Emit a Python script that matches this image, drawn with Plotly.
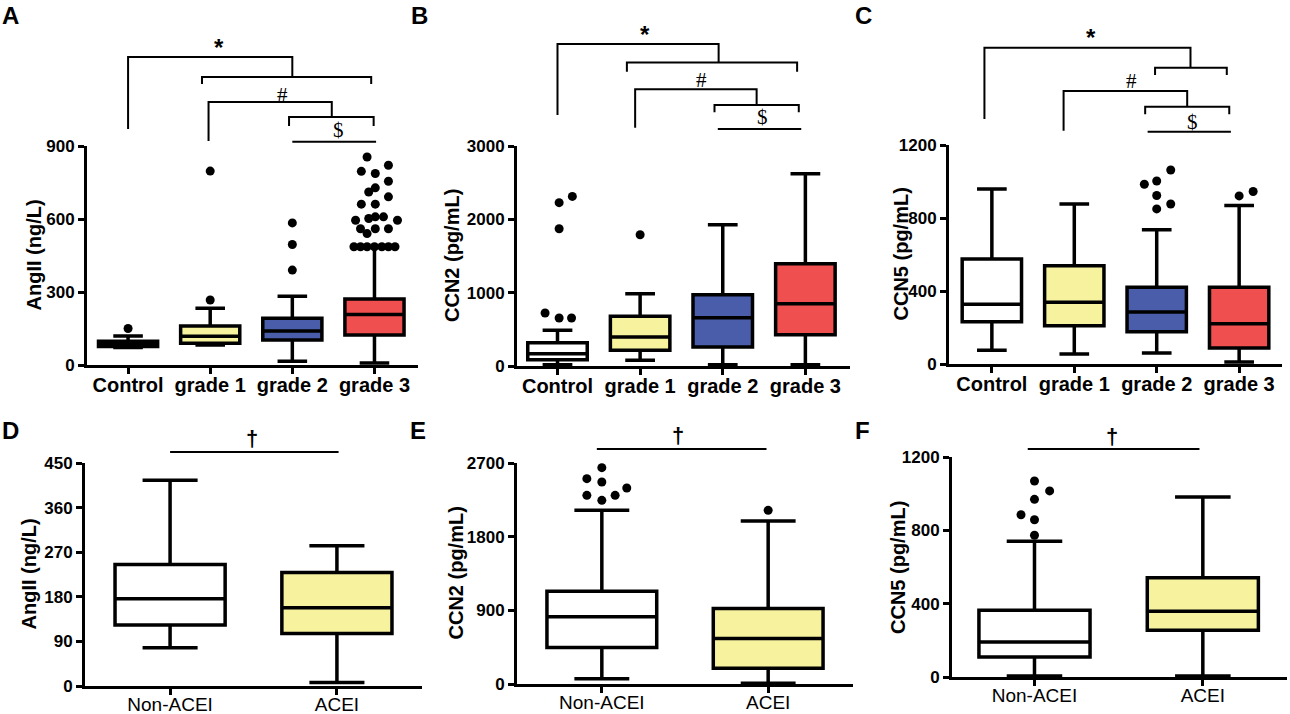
import plotly.graph_objects as go
from plotly.subplots import make_subplots

W, H = 1290, 714
FONT = "Liberation Sans"

# categories and colours
cats_grade = ["Control", "grade 1", "grade 2", "grade 3"]
cats_acei = ["Non-ACEI", "ACEI"]
fill_grade = ["white", "#F6F29E", "#4A5DAA", "#EF4F4F"]
fill_acei = ["white", "#F6F29E"]

# A - AngII by grade
angii_lo = [72, 82, 15, 8]
angii_q1 = [76, 89, 103, 123]
angii_med = [85, 118, 140, 208]
angii_q3 = [98, 160, 192, 271]
angii_hi = [119, 233, 283, 486]
angii_out = [[150], [267, 797], [390, 495, 584],
             [855, 821, 796, 787, 755, 728, 711, 691, 661, 661, 595, 602, 609, 595, 609,
              560, 560, 560, 540, 486, 486, 486, 486, 486, 486, 486]]
angii_out_dx = [[0], [0, 0], [0, 0, 0],
                [-0.09, 0.17, -0.16, 0.01, 0.17, 0.01, -0.07, 0.17, -0.16, 0.01, -0.23, -0.07, 0.11, 0.28, 0.01,
                 -0.17, 0.01, 0.17, -0.09, -0.25, -0.17, -0.09, 0, 0.09, 0.17, 0.25]]

# B - CCN2 by grade
ccn2_lo = [18, 77, 18, 18]
ccn2_q1 = [86, 214, 259, 427]
ccn2_med = [168, 395, 659, 850]
ccn2_q3 = [318, 677, 973, 1395]
ccn2_hi = [486, 986, 1927, 2622]
ccn2_out = [[723, 654, 654, 1872, 2227, 2313], [1790], [], []]
ccn2_out_dx = [[-0.15, 0.02, 0.17, 0.02, 0.02, 0.18], [0], [], []]

# C - CCN5 by grade
ccn5_lo = [75, 55, 60, 11]
ccn5_q1 = [232, 210, 177, 88]
ccn5_med = [328, 339, 285, 221]
ccn5_q3 = [575, 538, 420, 420]
ccn5_hi = [959, 877, 735, 868]
ccn5_out = [[], [], [985, 1003, 1063, 923, 850, 877], [921, 945]]
ccn5_out_dx = [[], [], [-0.15, 0, 0.17, 0, 0, 0.17], [0, 0.17]]

# D - AngII by ACEI
angii2_lo = [77, 7]
angii2_q1 = [123, 106]
angii2_med = [176, 158]
angii2_q3 = [245, 229]
angii2_hi = [415, 283]
angii2_out = [[], []]
angii2_out_dx = [[], []]

# E - CCN2 by ACEI
ccn2b_lo = [65, 8]
ccn2b_q1 = [447, 191]
ccn2b_med = [821, 557]
ccn2b_q3 = [1134, 923]
ccn2b_hi = [2122, 1992]
ccn2b_out = [[2643, 2509, 2468, 2395, 2305, 2244, 2305], [2122]]
ccn2b_out_dx = [[0, -0.09, 0, 0.15, -0.09, 0, 0.08], [0]]

# F - CCN5 by ACEI
ccn5b_lo = [5, 5]
ccn5b_q1 = [109, 255]
ccn5b_med = [191, 358]
ccn5b_q3 = [364, 542]
ccn5b_hi = [740, 982]
ccn5b_out = [[1069, 1015, 969, 885, 858, 773], []]
ccn5b_out_dx = [[0, 0.09, 0, -0.08, 0, 0], []]

# significance brackets (category, value) polylines and their symbols
brk_a = [[(0, 970), (0, 1266), (2, 1266), (2, 1184)],
         [(0.9, 1155), (0.9, 1184), (2.96, 1184), (2.96, 1155)],
         [(0.98, 921), (0.98, 1081), (2.48, 1081), (2.48, 1019)],
         [(1.96, 982), (1.96, 1019), (2.99, 1019), (2.99, 982)],
         [(2.0, 917), (3.02, 917)]]
sym_a = [("*", 1.11, 1303), ("#", 1.88, 1110), ("$", 2.56, 966)]
brk_b = [[(0, 3424), (0, 4392), (1.95, 4392), (1.95, 4137)],
         [(0.84, 4014), (0.84, 4137), (2.9, 4137), (2.9, 4014)],
         [(0.94, 3250), (0.94, 3774), (2.41, 3774), (2.41, 3560)],
         [(1.9, 3460), (1.9, 3560), (2.92, 3560), (2.92, 3460)],
         [(1.94, 3233), (2.95, 3233)]]
sym_b = [("*", 1.06, 4515), ("#", 1.74, 3901), ("$", 2.48, 3400)]
brk_c = [[(-0.09, 1342), (-0.09, 1733), (2.41, 1733), (2.41, 1624)],
         [(1.98, 1583), (1.98, 1624), (2.85, 1624), (2.85, 1583)],
         [(0.87, 1278), (0.87, 1496), (2.37, 1496), (2.37, 1410)],
         [(1.86, 1368), (1.86, 1410), (2.88, 1410), (2.88, 1368)],
         [(1.89, 1273), (2.9, 1273)]]
sym_c = [("*", 1.2, 1790), ("#", 1.7, 1551), ("$", 2.43, 1327)]
brk_d = [[(0, 472), (1.01, 472)]]
sym_d = [("†", 0.49, 499)]
brk_e = [[(-0.03, 2871), (0.99, 2871)]]
sym_e = [("†", 0.46, 3030)]
brk_f = [[(-0.04, 1244), (0.98, 1244)]]
sym_f = [("†", 0.46, 1312)]

panels = [
    dict(letter="A", cats=cats_grade, fills=fill_grade, lo=angii_lo, q1=angii_q1, med=angii_med, q3=angii_q3,
         hi=angii_hi, out=angii_out, odx=angii_out_dx, title="AngII (ng/L)", ymax=900, dtick=300,
         box=(87, 418, 146, 365), xr=(-0.5, 3.53), tx=33, let=(10, 15), brk=brk_a, sym=sym_a),
    dict(letter="B", cats=cats_grade, fills=fill_grade, lo=ccn2_lo, q1=ccn2_q1, med=ccn2_med, q3=ccn2_q3,
         hi=ccn2_hi, out=ccn2_out, odx=ccn2_out_dx, title="CCN2 (pg/mL)", ymax=3000, dtick=1000,
         box=(517, 850, 146, 366), xr=(-0.49, 3.54), tx=452, let=(419, 15), brk=brk_b, sym=sym_b),
    dict(letter="C", cats=cats_grade, fills=fill_grade, lo=ccn5_lo, q1=ccn5_q1, med=ccn5_med, q3=ccn5_q3,
         hi=ccn5_hi, out=ccn5_out, odx=ccn5_out_dx, title="CCN5 (pg/mL)", ymax=1200, dtick=400,
         box=(949, 1282, 145, 364), xr=(-0.52, 3.52), tx=900, let=(863, 15), brk=brk_c, sym=sym_c),
    dict(letter="D", cats=cats_acei, fills=fill_acei, lo=angii2_lo, q1=angii2_q1, med=angii2_med, q3=angii2_q3,
         hi=angii2_hi, out=angii2_out, odx=angii2_out_dx, title="AngII (ng/L)", ymax=450, dtick=90,
         box=(85, 422, 463, 686), xr=(-0.51, 1.51), tx=28, let=(10, 430), brk=brk_d, sym=sym_d),
    dict(letter="E", cats=cats_acei, fills=fill_acei, lo=ccn2b_lo, q1=ccn2b_q1, med=ccn2b_med, q3=ccn2b_q3,
         hi=ccn2b_hi, out=ccn2b_out, odx=ccn2b_out_dx, title="CCN2 (pg/mL)", ymax=2700, dtick=900,
         box=(517, 853, 463, 684), xr=(-0.51, 1.51), tx=455, let=(418, 430), brk=brk_e, sym=sym_e),
    dict(letter="F", cats=cats_acei, fills=fill_acei, lo=ccn5b_lo, q1=ccn5b_q1, med=ccn5b_med, q3=ccn5b_q3,
         hi=ccn5b_hi, out=ccn5b_out, odx=ccn5b_out_dx, title="CCN5 (pg/mL)", ymax=1200, dtick=400,
         box=(952, 1287, 457, 677), xr=(-0.49, 1.5), tx=898, let=(862, 430), brk=brk_f, sym=sym_f),
]

fig = make_subplots(rows=2, cols=3)
shapes, annots = [], []

for k, p in enumerate(panels):
    n = k + 1
    r, c = k // 3 + 1, k % 3 + 1
    sfx = "" if n == 1 else str(n)
    grade = len(p["cats"]) == 4
    bw = 0.72 if grade else 0.66

    for i in range(len(p["cats"])):
        fig.add_trace(go.Box(x=[i], q1=[p["q1"][i]], median=[p["med"][i]], q3=[p["q3"][i]],
                             lowerfence=[p["lo"][i]], upperfence=[p["hi"][i]], width=bw, whiskerwidth=0.5,
                             fillcolor=p["fills"][i], line=dict(color="black", width=3.5), boxpoints=False,
                             showlegend=False, hoverinfo="skip"), row=r, col=c)
        if p["out"][i]:
            fig.add_trace(go.Scatter(x=[i + d for d in p["odx"][i]], y=p["out"][i], mode="markers",
                                     marker=dict(color="black", size=9), cliponaxis=False,
                                     showlegend=False, hoverinfo="skip"), row=r, col=c)

    x0, x1, y0, y1 = p["box"]
    fig.update_xaxes(domain=[x0 / W, x1 / W], range=list(p["xr"]), tickvals=list(range(len(p["cats"]))),
                     ticktext=p["cats"], showline=True, linewidth=3, linecolor="black", ticks="outside",
                     ticklen=6, tickwidth=3, tickcolor="black", showgrid=False, zeroline=False,
                     automargin=False, ticklabelstandoff=-6 if grade else -7,
                     tickfont=dict(family=FONT, size=20 if grade else 19, color="black",
                                   weight="bold" if grade else "normal"),
                     row=r, col=c)
    fig.update_yaxes(domain=[1 - y1 / H, 1 - y0 / H], range=[0, p["ymax"]],
                     tickvals=list(range(0, p["ymax"] + 1, p["dtick"])), showline=True, linewidth=3,
                     linecolor="black", ticks="outside", ticklen=6, tickwidth=3, tickcolor="black",
                     showgrid=False, zeroline=False, automargin=False,
                     tickfont=dict(family=FONT, size=17, color="black", weight="bold"), row=r, col=c)

    # axis title
    annots.append(dict(text=p["title"], x=p["tx"] / W, y=1 - (y0 + y1) / 2 / H, xref="paper", yref="paper",
                       textangle=-90, showarrow=False, xanchor="center", yanchor="middle",
                       font=dict(family=FONT, size=20, color="black", weight="bold")))
    # panel letter
    annots.append(dict(text=p["letter"], x=p["let"][0] / W, y=1 - p["let"][1] / H, xref="paper", yref="paper",
                       showarrow=False, xanchor="center", yanchor="middle",
                       font=dict(family=FONT, size=24, color="black", weight="bold")))

    def dx(v):
        return (v - p["xr"][0]) / (p["xr"][1] - p["xr"][0])

    def dy(v):
        return v / p["ymax"]

    for line in p["brk"]:
        path = "M " + " L ".join(f"{dx(a):.4f},{dy(b):.4f}" for a, b in line)
        shapes.append(dict(type="path", path=path, xref=f"x{sfx} domain", yref=f"y{sfx} domain",
                           line=dict(color="black", width=2)))
    for s, a, b in p["sym"]:
        if s in ("#", "$"):
            f = dict(family="Liberation Serif", size=21, color="black")
        else:
            f = dict(family=FONT, size=24 if s == "*" else 22, color="black", weight="bold")
        annots.append(dict(text=s, x=dx(a), y=dy(b), xref=f"x{sfx} domain", yref=f"y{sfx} domain",
                           showarrow=False, xanchor="center", yanchor="middle", font=f))

fig.update_layout(width=W, height=H, margin=dict(l=0, r=0, t=0, b=0), plot_bgcolor="white",
                  paper_bgcolor="white", shapes=shapes, annotations=annots, boxmode="overlay")

# the page body has a default 8px margin; drop it so the figure fills the window
fig.write_html("out.html", config={"displayModeBar": False},
               post_script="document.body.style.margin='0px';")
